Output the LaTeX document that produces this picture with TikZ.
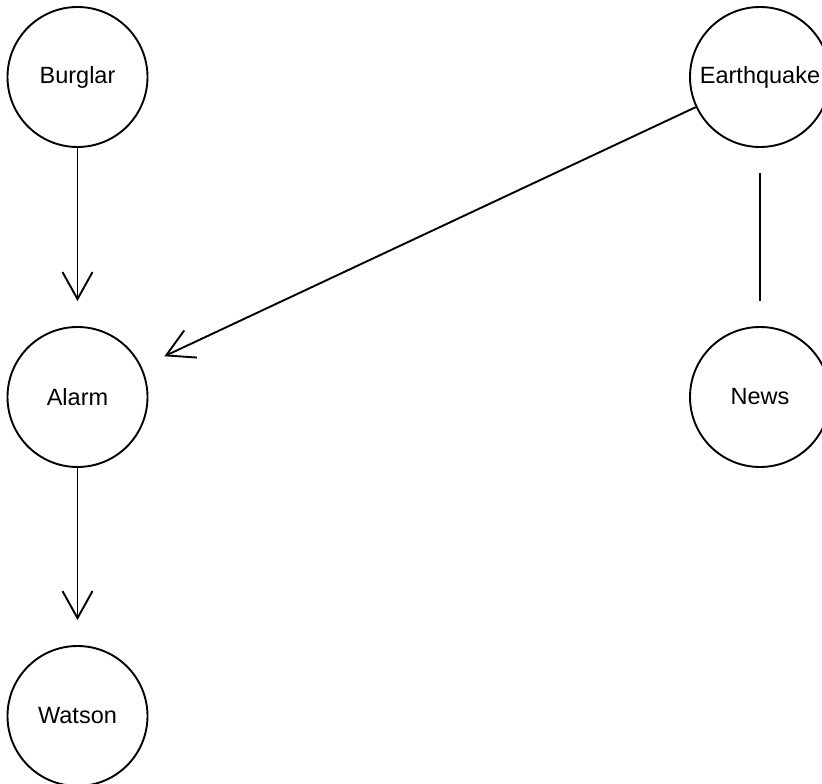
\documentclass[tikz,border=0pt]{standalone}
\usepackage{fontspec}
\setmainfont{Liberation Sans}
\usetikzlibrary{arrows.meta}
\begin{document}
\begin{tikzpicture}[x=1pt,y=-1pt,
  var/.style={draw, circle, line width=1.9pt, minimum size=140pt, inner sep=0pt,
    font=\fontsize{23.5pt}{28pt}\selectfont},
  edge/.style={line width=1.9pt, shorten >=25pt,
    -{Straight Barb[length=27pt, width=30pt, line width=1.9pt]}},
  link/.style={line width=2.4pt, shorten <=25pt, shorten >=25pt}]
  \useasboundingbox (0,0) rectangle (822,784);
  \clip (0,0) rectangle (822,784);

  % variables of the network
  \node[var] (burglar) at (77.5,77) {Burglar};
  \node[var] (quake)   at (760,77)  {Earthquake};
  \node[var] (alarm)   at (77.5,397) {Alarm};
  \node[var] (news)    at (760,397) {News};
  \node[var] (watson)  at (77.5,716) {Watson};

  % dependencies
  \draw[edge] (burglar) -- (alarm);
  \draw[edge] (quake) -- (alarm);
  \draw[edge] (alarm) -- (watson);
  \draw[link] (quake) -- (news);
\end{tikzpicture}
\end{document}
